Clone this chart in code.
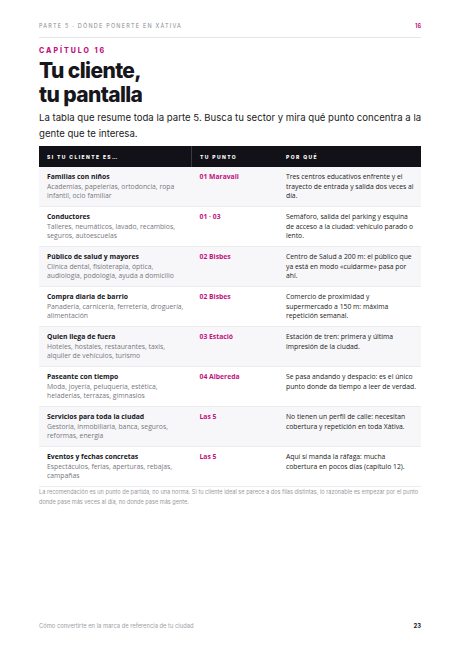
<!DOCTYPE html>
<html lang="es">
<head>
<meta charset="UTF-8">
<title>Tu cliente, tu pantalla</title>
<script src="https://cdn.jsdelivr.net/npm/chart.js"></script>
<style>
    body { margin: 0; width: 460px; height: 651px; background: #fff; font-family: Inter, "Open Sans", sans-serif; color: #16161c; position: relative; overflow: hidden; }
    .top { position: absolute; left: 39px; right: 39px; top: 23px; font-size: 5.5px; letter-spacing: 1.2px; color: #8a8a90; border-bottom: 1px solid #e6e6ea; padding-bottom: 8px; }
    .top span { float: right; color: #c2127f; font-weight: 700; letter-spacing: 0; }
    .cap { position: absolute; left: 39px; top: 46px; font-size: 7px; font-weight: 800; letter-spacing: 2px; color: #c2127f; }
    h1 { position: absolute; left: 39px; top: 59px; margin: 0; font-size: 21px; line-height: 24px; font-weight: 800; letter-spacing: -0.6px; }
    .intro { position: absolute; left: 39px; right: 36px; top: 110px; font-size: 9.6px; line-height: 16px; color: #222; }
    table { position: absolute; left: 39px; top: 146px; width: 382px; border-collapse: collapse; }
    th { background: #111117; color: #fff; font-size: 5px; letter-spacing: 1.4px; font-weight: 800; text-align: left; height: 21px; padding: 0 0 0 8px; font-family: Inter, sans-serif; }
    th.c1 { border-right: 1px solid #3a3a42; }
    td { vertical-align: top; font-family: "Open Sans", sans-serif; font-size: 6.8px; line-height: 9.5px; padding: 5px 4px 4px 8px; height: 30px; border-bottom: 1px solid #ececef; color: #222; }
    tr.g td { background: #f7f7f9; }
    td.who b { display: block; font-weight: 700; color: #16161c; }
    td.who span { color: #77777d; }
    td.pt { color: #c2127f; font-weight: 700; }
    .note { position: absolute; left: 39px; right: 36px; top: 488px; font-size: 5.6px; line-height: 9.8px; color: #9a9aa0; }
    .foot { position: absolute; left: 39px; right: 39px; top: 622px; font-size: 5.8px; color: #a0a0a6; }
    .foot span { float: right; color: #16161c; font-weight: 700; }
</style>
</head>
<body>
<div class="top">PARTE 5 · DÓNDE PONERTE EN XÀTIVA<span>16</span></div>
<div class="cap">CAPÍTULO 16</div>
<h1>Tu cliente,<br>tu pantalla</h1>
<div class="intro">La tabla que resume toda la parte 5. Busca tu sector y mira qué punto concentra a la gente que te interesa.</div>
<table id="tbl"></table>
<div class="note">La recomendación es un punto de partida, no una norma. Si tu cliente ideal se parece a dos filas distintas, lo razonable es empezar por el punto donde pase más veces al día, no donde pase más gente.</div>
<div class="foot">Cómo convertirte en la marca de referencia de tu ciudad<span>23</span></div>

<script>
const headers = ['SI TU CLIENTE ES…', 'TU PUNTO', 'POR QUÉ'];
const clients = ['Familias con niños', 'Conductores', 'Público de salud y mayores', 'Compra diaria de barrio', 'Quien llega de fuera', 'Paseante con tiempo', 'Servicios para toda la ciudad', 'Eventos y fechas concretas'];
const sectors = [
    'Academias, papelerías, ortodoncia, ropa infantil, ocio familiar',
    'Talleres, neumáticos, lavado, recambios, seguros, autoescuelas',
    'Clínica dental, fisioterapia, óptica, audiología, podología, ayuda a domicilio',
    'Panadería, carnicería, ferretería, droguería, alimentación',
    'Hoteles, hostales, restaurantes, taxis, alquiler de vehículos, turismo',
    'Moda, joyería, peluquería, estética, heladerías, terrazas, gimnasios',
    'Gestoría, inmobiliaria, banca, seguros, reformas, energía',
    'Espectáculos, ferias, aperturas, rebajas, campañas'
];
const points = ['01 Maravall', '01 · 03', '02 Bisbes', '02 Bisbes', '03 Estació', '04 Albereda', 'Las 5', 'Las 5'];
const reasons = [
    'Tres centros educativos enfrente y el trayecto de entrada y salida dos veces al día.',
    'Semáforo, salida del parking y esquina de acceso a la ciudad: vehículo parado o lento.',
    'Centro de Salud a 200 m: el público que ya está en modo «cuidarme» pasa por ahí.',
    'Comercio de proximidad y supermercado a 150 m: máxima repetición semanal.',
    'Estación de tren: primera y última impresión de la ciudad.',
    'Se pasa andando y despacio: es el único punto donde da tiempo a leer de verdad.',
    'No tienen un perfil de calle: necesitan cobertura y repetición en toda Xàtiva.',
    'Aquí sí manda la ráfaga: mucha cobertura en pocos días (capítulo 12).'
];

let html = `<tr><th class="c1" style="width:144px">${headers[0]}</th><th style="width:78px">${headers[1]}</th><th>${headers[2]}</th></tr>`;
clients.forEach((c, i) => {
    html += `<tr class="${i % 2 === 0 ? 'g' : ''}"><td class="who"><b>${c}</b><span>${sectors[i]}</span></td><td class="pt">${points[i]}</td><td>${reasons[i]}</td></tr>`;
});
document.getElementById('tbl').innerHTML = html;
</script>
</body>
</html>
